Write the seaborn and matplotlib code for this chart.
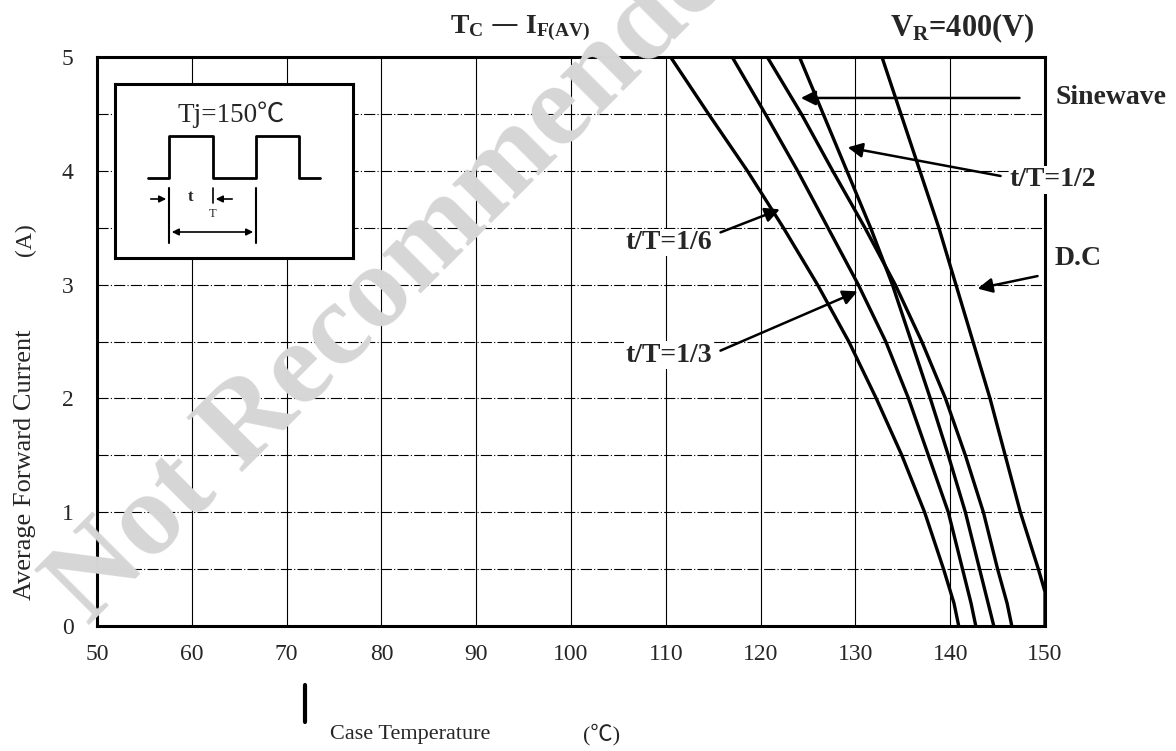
import matplotlib
matplotlib.use('Agg')
import matplotlib.pyplot as plt
import seaborn as sns
import pandas as pd
from matplotlib.lines import Line2D

# Tc - IF(AV) derating curves, VR = 400 V
current = [5, 4.5, 4, 3.5, 3, 2.5, 2, 1.5, 1, 0.5, 0.2, 0]
temp_1_6 = [110.5, 114.5, 118.6, 122.4, 126.0, 129.3, 132.2, 134.9, 137.3, 139.3, 140.4, 140.9]
temp_1_3 = [117.0, 120.5, 123.9, 127.1, 130.3, 133.2, 135.6, 137.7, 139.8, 141.3, 142.2, 142.7]
temp_sine = [120.7, 124.3, 127.6, 131.0, 134.2, 137.0, 139.5, 141.6, 143.5, 145.0, 146.0, 146.5]
temp_half = [124.1, 126.6, 129.1, 131.6, 133.9, 135.9, 137.9, 139.8, 141.6, 143.1, 144.0, 144.6]
current_dc = [5, 4.5, 4, 3.5, 3, 2.5, 2, 1.5, 1, 0.5, 0.3, 0]
temp_dc = [132.8, 134.8, 136.8, 138.8, 140.6, 142.4, 144.2, 145.8, 147.4, 149.3, 150.0, 150.0]

x_ticks = [50, 60, 70, 80, 90, 100, 110, 120, 130, 140, 150]
y_ticks = [0, 1, 2, 3, 4, 5]

# inset waveform sketch (inset pixel coordinates)
wave_x = [148, 169, 169, 213, 213, 256, 256, 299, 299, 320]
wave_y = [178, 178, 136, 136, 178, 178, 136, 136, 178, 178]

frames = []
for name, temps, cur in [('t/T=1/6', temp_1_6, current), ('t/T=1/3', temp_1_3, current),
                         ('Sinewave', temp_sine, current), ('t/T=1/2', temp_half, current),
                         ('D.C', temp_dc, current_dc)]:
    frames.append(pd.DataFrame({'Tc': temps, 'IF': cur, 'curve': name}))
df = pd.concat(frames, ignore_index=True)

sns.set_style('white')
plt.rcParams['font.family'] = ['Liberation Serif', 'Noto Sans CJK JP', 'DejaVu Sans']
plt.rcParams['mathtext.default'] = 'regular'

W, H = 1176, 751
fig = plt.figure(figsize=(W / 100, H / 100), dpi=100)
ax = fig.add_axes([97 / W, 1 - 626 / H, (1045 - 97) / W, (626 - 57) / H])

sns.lineplot(data=df, x='Tc', y='IF', hue='curve', units='curve', estimator=None, sort=False,
             palette=['black'] * 5, linewidth=2.4, legend=False, ax=ax, zorder=3)

ax.set_xlim(50, 150)
ax.set_ylim(0, 5)
ax.set_xticks(x_ticks)
ax.set_yticks(y_ticks)
ax.set_yticks([0.5, 1.5, 2.5, 3.5, 4.5], minor=True)
ax.tick_params(axis='both', which='both', length=0, labelsize=17)
ax.tick_params(axis='x', pad=13)
ax.tick_params(axis='y', pad=17)
ax.set_xlabel('')
ax.set_ylabel('')
ax.grid(True, axis='x', which='major', color='black', linewidth=0.8)
ax.grid(True, axis='y', which='both', color='black', linewidth=0.8, linestyle=(0, (10, 2, 1, 2)))
for s in ax.spines.values():
    s.set_linewidth(2.2)
    s.set_color('black')

# curve labels with arrows
arrow = dict(arrowstyle='-|>', color='black', lw=1.8, mutation_scale=22)
lab = dict(fontsize=20, fontweight='bold')
ax.annotate('', xy=(123.95, 4.64), xytext=(147.6, 4.64), arrowprops=arrow)
ax.text(151.1, 4.64, 'Sinewave', va='center', ha='left', clip_on=False, **lab)
ax.annotate('', xy=(128.9, 4.21), xytext=(145.6, 3.95), arrowprops=arrow)
ax.text(146.3, 3.92, 't/T=1/2', va='center', ha='left', clip_on=False,
        bbox=dict(facecolor='white', edgecolor='none', pad=1), **lab)
ax.annotate('', xy=(142.6, 2.96), xytext=(149.5, 3.08), arrowprops=arrow)
ax.text(151.0, 3.23, 'D.C', va='center', ha='left', clip_on=False, **lab)
ax.annotate('', xy=(122.3, 3.67), xytext=(115.5, 3.45), arrowprops=arrow)
ax.text(114.9, 3.37, 't/T=1/6', va='center', ha='right',
        bbox=dict(facecolor='white', edgecolor='none', pad=1), **lab)
ax.annotate('', xy=(130.5, 2.95), xytext=(115.5, 2.41), arrowprops=arrow)
ax.text(114.9, 2.38, 't/T=1/3', va='center', ha='right',
        bbox=dict(facecolor='white', edgecolor='none', pad=1), **lab)

# titles and axis labels
fig.text(520 / W, 1 - 28 / H, r'$T_C$ — $I_{F(AV)}$', ha='center', va='center', fontsize=20, fontweight='bold')
fig.text(962 / W, 1 - 28 / H, r'$V_R$=400(V)', ha='center', va='center', fontsize=22, fontweight='bold')
fig.text(410 / W, 1 - 735 / H, 'Case Temperature', ha='center', va='center', fontsize=16)
fig.text(602 / W, 1 - 735 / H, '(℃)', ha='center', va='center', fontsize=16)
fig.text(25 / W, 1 - 465 / H, 'Average Forward Current', ha='center', va='center', rotation=90, fontsize=19)
fig.text(25 / W, 1 - 240 / H, '(A)', ha='center', va='center', rotation=90, fontsize=17)

# inset box with the pulse sketch
ins = fig.add_axes([115 / W, 1 - 258 / H, (353 - 115) / W, (258 - 84) / H])
ins.set_xlim(115, 353)
ins.set_ylim(258, 84)
ins.set_xticks([])
ins.set_yticks([])
ins.set_facecolor('white')
for s in ins.spines.values():
    s.set_linewidth(2.2)
    s.set_color('black')
ins.plot(wave_x, wave_y, color='black', lw=2)
ins.plot([169, 169], [188, 243], color='black', lw=1.5)
ins.plot([256, 256], [188, 243], color='black', lw=1.5)
ins.plot([213, 213], [188, 203], color='black', lw=1.2)
small = dict(arrowstyle='-|>', color='black', lw=1.2, mutation_scale=10)
ins.annotate('', xy=(169, 199), xytext=(148, 199), arrowprops=small)
ins.annotate('', xy=(213, 199), xytext=(235, 199), arrowprops=small)
ins.annotate('', xy=(169, 232), xytext=(256, 232), arrowprops=dict(arrowstyle='<|-|>', color='black', lw=1.2, mutation_scale=10))
ins.text(190, 197, 't', ha='center', va='center', fontsize=12, fontweight='bold')
ins.text(213, 214, 'T', ha='center', va='center', fontsize=9)
ins.text(231, 115, 'Tj=150℃', ha='center', va='center', fontsize=19.5)

# scan leftovers: stray bar below axis and the watermark
fig.add_artist(Line2D([305 / W, 305 / W], [1 - 685 / H, 1 - 722 / H], lw=3, color='black'))
fig.text(88 / W, 1 - 626 / H, 'Not Recommended', rotation=45, rotation_mode='anchor', ha='left', va='baseline',
         fontsize=86, fontweight='bold', color='#d6d6d6', zorder=10)

fig.savefig('out.png', dpi=100)
